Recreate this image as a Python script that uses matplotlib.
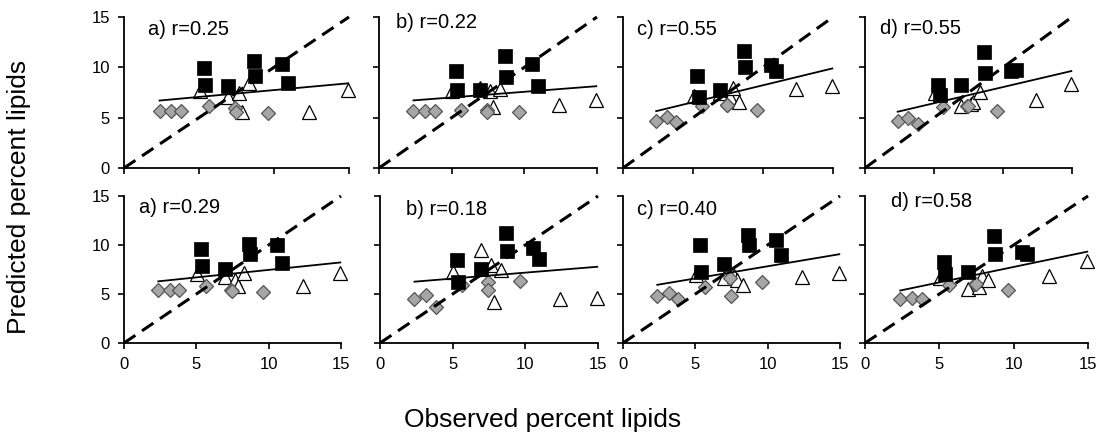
import matplotlib
matplotlib.use("Agg")
import matplotlib.pyplot as plt
import numpy as np

plt.rcParams['font.family'] = ['Liberation Sans', 'DejaVu Sans']

# ---------------- data ----------------
panel_labels = ["a) r=0.25", "b) r=0.22", "c) r=0.55", "d) r=0.55",
                "a) r=0.29", "b) r=0.18", "c) r=0.40", "d) r=0.58"]

# observed values (shared by all panels)
square_x = [5.3, 5.4, 6.95, 8.65, 8.72, 10.55, 10.92]
triangle_x = [5.05, 6.95, 7.65, 7.85, 8.3, 12.36, 14.95]
diamond_x = [2.37, 3.15, 3.82, 5.65, 7.4, 7.45, 9.6]

# predicted values per panel
square_y = [
    [9.93, 8.28, 8.18, 10.6, 9.17, 10.3, 8.45],
    [9.59, 7.70, 7.70, 11.09, 9.01, 10.33, 8.19],
    [9.12, 7.04, 7.79, 11.63, 10.0, 10.24, 9.66],
    [8.29, 7.21, 8.21, 11.5, 9.46, 9.64, 9.71],
    [9.63, 7.82, 7.59, 10.14, 9.05, 9.97, 8.18],
    [8.5, 6.21, 7.54, 11.23, 9.42, 9.69, 8.57],
    [10.0, 7.29, 8.07, 11.02, 10.0, 10.5, 8.96],
    [8.3, 7.04, 7.21, 10.95, 9.08, 9.25, 9.08],
]
triangle_y = [
    [7.69, 7.03, 7.46, 5.54, 8.42, 5.61, 7.76],
    [7.6, 7.96, 7.63, 6.05, 7.86, 6.22, 6.78],
    [7.2, 7.48, 7.07, 7.9, 6.56, 7.82, 8.1],
    [7.43, 6.18, 6.4, 6.54, 7.57, 6.71, 8.32],
    [7.0, 6.73, 6.39, 5.78, 7.14, 5.78, 7.14],
    [7.27, 9.49, 8.0, 4.2, 7.47, 4.47, 4.64],
    [6.95, 6.67, 6.8, 6.43, 5.92, 6.71, 7.12],
    [6.63, 5.51, 5.68, 6.87, 6.46, 6.87, 8.33],
]
diamond_y = [
    [5.68, 5.68, 5.68, 6.14, 5.97, 5.61, 5.45],
    [5.66, 5.66, 5.66, 5.79, 5.79, 5.56, 5.56],
    [4.66, 5.03, 4.52, 6.19, 6.29, 6.25, 5.75],
    [4.64, 4.93, 4.39, 6.07, 6.2, 6.18, 5.71],
    [5.37, 5.37, 5.37, 5.85, 5.44, 5.27, 5.17],
    [4.44, 4.88, 3.69, 5.9, 6.25, 5.39, 6.31],
    [4.83, 5.07, 4.49, 5.75, 6.6, 4.83, 6.26],
    [4.49, 4.59, 4.49, 5.88, 6.0, 6.02, 5.44],
]
fit_intercept = [6.38, 6.45, 4.85, 4.83, 5.93, 5.97, 5.35, 4.61]
fit_slope = [0.136, 0.112, 0.337, 0.321, 0.153, 0.121, 0.248, 0.315]

ticks = [0, 5, 10, 15]

# ---------------- layout ----------------
W, H = 1106, 432
# (x0 px, x15 px, y15 px from top, y0 px from top)
boxes = [
    (124, 349, 17, 168), (379, 597, 17, 168), (623, 833, 17, 168), (865, 1072, 17, 168),
    (124, 341, 196, 343), (380, 598, 196, 343), (623, 840, 196, 343), (865, 1088, 196, 343),
]
label_off = [(24, 18), (17, 11), (14, 18), (15, 17), (15, 17), (26, 19), (14, 19), (26, 11)]

fig = plt.figure(figsize=(W / 100, H / 100), dpi=100)

for i in range(8):
    x0, x1, yt, yb = boxes[i]
    ax = fig.add_axes([x0 / W, 1 - yb / H, (x1 - x0) / W, (yb - yt) / H])
    ax.set_xlim(0, 15)
    ax.set_ylim(0, 15)
    ax.set_xticks(ticks)
    ax.set_yticks(ticks)
    for s in ['top', 'right']:
        ax.spines[s].set_visible(False)
    for s in ['left', 'bottom']:
        ax.spines[s].set_linewidth(1.3)
    ax.tick_params(direction='out', length=4, width=1.2, labelsize=12, pad=6,
                   labelleft=(i % 4 == 0), labelbottom=(i >= 4))
    ax.patch.set_alpha(0)

    ax.plot(triangle_x, triangle_y[i], linestyle='none', marker='^', ms=9.5,
            mfc='white', mec='black', mew=0.9, clip_on=False, zorder=3)
    ax.plot(diamond_x, diamond_y[i], linestyle='none', marker='D', ms=7.5,
            mfc='#a6a6a6', mec='#555555', mew=0.9, clip_on=False, zorder=4)
    ax.plot(square_x, square_y[i], linestyle='none', marker='s', ms=9.5,
            mfc='black', mec='black', mew=0.5, clip_on=False, zorder=5)

    allx = np.concatenate([square_x, triangle_x, diamond_x])
    fx = np.array([allx.min(), allx.max()])
    ax.plot(fx, fit_intercept[i] + fit_slope[i] * fx, color='black', lw=1.3,
            zorder=6, clip_on=False)
    ax.plot([0, 15], [0, 15], color='black', lw=2.2, linestyle=(0, (4.5, 2.6)),
            zorder=6, clip_on=False)

    dx, dy = label_off[i]
    ax.annotate(panel_labels[i], xy=(0, 1), xycoords='axes fraction',
                xytext=(dx, -dy), textcoords='offset pixels',
                ha='left', va='baseline', fontsize=14.5)

fig.text(19 / W, 1 - 197 / H, 'Predicted percent lipids', rotation=90,
         ha='center', va='center', fontsize=19)
fig.text(543 / W, 1 - 427 / H, 'Observed percent lipids', ha='center',
         va='baseline', fontsize=19)

fig.savefig('out.png', dpi=100)
